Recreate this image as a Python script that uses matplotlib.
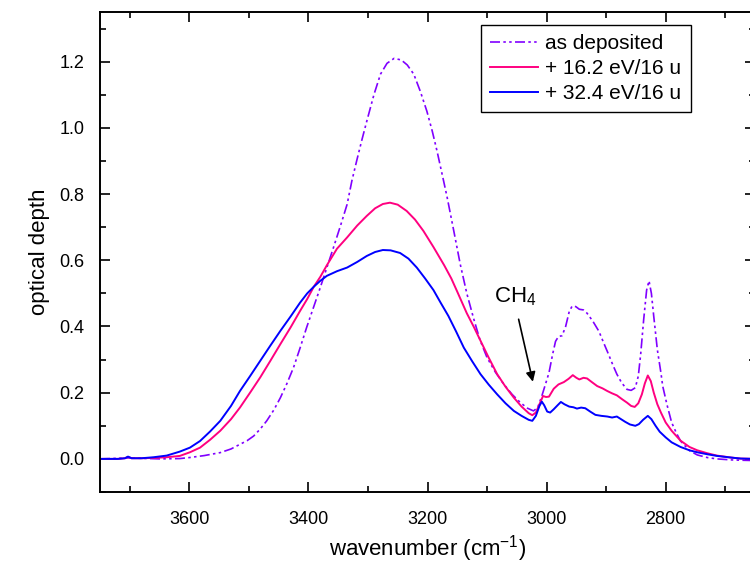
import matplotlib
matplotlib.use("Agg")
import matplotlib.pyplot as plt
from matplotlib.ticker import MultipleLocator, FormatStrFormatter

plt.rcParams['font.family'] = ['Liberation Sans', 'DejaVu Sans']
plt.rcParams['mathtext.fontset'] = 'custom'
plt.rcParams['mathtext.rm'] = 'Liberation Sans'
plt.rcParams['mathtext.it'] = 'Liberation Sans:italic'

# as deposited (dash-dot-dot, violet)
wn_dep = [3750, 3700, 3650, 3616, 3600, 3575, 3548, 3530, 3515, 3503, 3492, 3481,
          3470, 3458, 3447, 3436, 3425, 3414, 3403, 3391, 3380, 3369, 3358, 3346,
          3335, 3327, 3319, 3310, 3302, 3290, 3279, 3268, 3256, 3244, 3234, 3223,
          3212, 3201, 3192, 3184, 3173, 3167, 3156, 3145, 3134, 3123, 3112, 3100,
          3086, 3072, 3058, 3044, 3032, 3022, 3015, 3008, 3002, 2996, 2990, 2985,
          2980, 2974, 2968, 2962, 2957, 2951, 2945, 2938, 2932, 2922, 2912, 2904,
          2896, 2889, 2882, 2874, 2865, 2858, 2851, 2846, 2842, 2837, 2832, 2828,
          2824, 2820, 2814, 2808, 2805, 2798, 2790, 2782, 2775, 2760, 2747, 2730,
          2714, 2690, 2674, 2650]
od_dep = [0.0, 0.003, 0.0, 0.001, 0.004, 0.01, 0.019, 0.03, 0.044, 0.055, 0.069, 0.09,
          0.115, 0.148, 0.185, 0.228, 0.276, 0.335, 0.397, 0.46, 0.518, 0.578, 0.638, 0.705,
          0.769, 0.84, 0.9, 0.965, 1.02, 1.1, 1.162, 1.195, 1.21, 1.205, 1.19, 1.162,
          1.11, 1.05, 0.99, 0.93, 0.84, 0.79, 0.69, 0.588, 0.5, 0.427, 0.36, 0.306,
          0.262, 0.226, 0.195, 0.17, 0.153, 0.145, 0.155, 0.19, 0.225, 0.26, 0.315, 0.355,
          0.37, 0.372, 0.4, 0.445, 0.462, 0.46, 0.452, 0.45, 0.44, 0.415, 0.385, 0.35,
          0.316, 0.285, 0.256, 0.23, 0.21, 0.207, 0.215, 0.25, 0.316, 0.42, 0.51, 0.538,
          0.5, 0.43, 0.33, 0.26, 0.22, 0.165, 0.11, 0.078, 0.054, 0.025, 0.012, 0.004,
          0.0, -0.003, -0.004, -0.005]

# + 16.2 eV/16 u (pink)
wn_16 = [3750, 3720, 3708, 3703, 3697, 3680, 3660, 3638, 3616, 3599, 3582, 3565,
         3548, 3530, 3515, 3498, 3481, 3464, 3447, 3430, 3414, 3402, 3391, 3380,
         3369, 3352, 3335, 3318, 3302, 3288, 3275, 3263, 3250, 3235, 3221, 3207,
         3190, 3172, 3160, 3150, 3134, 3122, 3111, 3097, 3083, 3069, 3055, 3042,
         3030, 3024, 3018, 3012, 3006, 3001, 2996, 2988, 2980, 2971, 2963, 2956,
         2950, 2945, 2938, 2932, 2924, 2915, 2906, 2898, 2890, 2882, 2873, 2865,
         2858, 2852, 2846, 2840, 2835, 2830, 2825, 2820, 2814, 2808, 2800, 2790,
         2775, 2760, 2747, 2730, 2714, 2690, 2674, 2650]
od_16 = [0.0, 0.0, 0.002, 0.006, 0.002, 0.002, 0.003, 0.005, 0.009, 0.02, 0.034, 0.058,
         0.085, 0.12, 0.155, 0.2, 0.246, 0.296, 0.347, 0.397, 0.447, 0.483, 0.52, 0.55,
         0.585, 0.635, 0.669, 0.705, 0.734, 0.757, 0.77, 0.774, 0.768, 0.749, 0.723, 0.689,
         0.64, 0.585, 0.545, 0.505, 0.44, 0.398, 0.357, 0.305, 0.256, 0.218, 0.185, 0.158,
         0.138, 0.132, 0.14, 0.165, 0.19, 0.187, 0.188, 0.212, 0.225, 0.232, 0.242, 0.253,
         0.245, 0.24, 0.245, 0.243, 0.232, 0.22, 0.213, 0.205, 0.198, 0.192, 0.18, 0.17,
         0.16, 0.157, 0.168, 0.195, 0.228, 0.252, 0.235, 0.2, 0.165, 0.14, 0.11, 0.085,
         0.055, 0.036, 0.026, 0.017, 0.01, 0.004, 0.001, 0.0]

# + 32.4 eV/16 u (blue)
wn_32 = [3750, 3720, 3708, 3703, 3697, 3680, 3660, 3638, 3616, 3599, 3582, 3565,
         3548, 3530, 3515, 3498, 3481, 3464, 3447, 3430, 3414, 3402, 3391, 3380,
         3369, 3352, 3335, 3318, 3302, 3288, 3275, 3262, 3246, 3232, 3218, 3204,
         3190, 3178, 3165, 3152, 3139, 3125, 3111, 3097, 3083, 3069, 3055, 3042,
         3030, 3024, 3018, 3012, 3008, 3004, 2999, 2994, 2988, 2981, 2976, 2970,
         2962, 2955, 2949, 2942, 2935, 2926, 2918, 2908, 2898, 2890, 2882, 2875,
         2868, 2860, 2851, 2845, 2838, 2830, 2824, 2817, 2810, 2800, 2790, 2775,
         2760, 2747, 2730, 2714, 2690, 2674, 2650]
od_32 = [0.0, 0.0, 0.002, 0.007, 0.002, 0.002, 0.005, 0.01, 0.022, 0.034, 0.054, 0.083,
         0.115, 0.16, 0.205, 0.25, 0.296, 0.342, 0.387, 0.43, 0.472, 0.5, 0.52, 0.538,
         0.553, 0.567, 0.578, 0.595, 0.613, 0.625, 0.631, 0.63, 0.622, 0.605, 0.578, 0.545,
         0.51, 0.472, 0.432, 0.385, 0.336, 0.295, 0.256, 0.224, 0.195, 0.168, 0.145, 0.13,
         0.118, 0.115, 0.13, 0.16, 0.173, 0.162, 0.143, 0.14, 0.15, 0.163, 0.172, 0.165,
         0.158, 0.156, 0.152, 0.155, 0.153, 0.142, 0.133, 0.13, 0.128, 0.125, 0.128, 0.12,
         0.112, 0.104, 0.1, 0.105, 0.118, 0.13, 0.12, 0.1, 0.082, 0.065, 0.05, 0.036,
         0.026, 0.02, 0.014, 0.009, 0.004, 0.001, 0.0]

labels = ["as deposited", "+ 16.2 eV/16 u", "+ 32.4 eV/16 u"]

fig = plt.figure(figsize=(7.5, 5.65), dpi=100)
ax = fig.add_axes([100/750, 73/565, 655/750, 480/565])

ax.plot(wn_dep, od_dep, color="#8000ff", lw=1.2,
        linestyle=(0, (6, 2, 1.5, 2, 1.5, 2)), label=labels[0])
ax.plot(wn_16, od_16, color="#ff0080", lw=1.4, label=labels[1])
ax.plot(wn_32, od_32, color="#0000ff", lw=1.4, label=labels[2])

ax.set_xlim(3750, 2650)
ax.set_ylim(-0.1, 1.35)
ax.xaxis.set_major_locator(MultipleLocator(200))
ax.xaxis.set_minor_locator(MultipleLocator(100))
ax.yaxis.set_major_locator(MultipleLocator(0.2))
ax.yaxis.set_minor_locator(MultipleLocator(0.1))
ax.yaxis.set_major_formatter(FormatStrFormatter('%.1f'))
ax.tick_params(which='both', direction='in', top=True, right=True, labelsize=13, width=1.2)
ax.tick_params(which='major', length=7)
ax.tick_params(which='minor', length=4)
ax.tick_params(axis='x', which='major', pad=14)
ax.tick_params(axis='y', which='major', pad=11)
for s in ax.spines.values():
    s.set_linewidth(1.4)

ax.set_xlabel("wavenumber (cm$^{-1}$)", fontsize=16, labelpad=3)
ax.set_ylabel("optical depth", fontsize=16, labelpad=7)

ax.annotate("", xy=(3022, 0.225), xytext=(3048, 0.43),
            arrowprops=dict(arrowstyle="-|>", color="black", lw=1.2, mutation_scale=14))
ax.text(3052, 0.49, "CH$_4$", fontsize=16, ha="center", va="center")

leg = ax.legend(loc="upper right", bbox_to_anchor=(0.902, 0.973), borderaxespad=0,
                fontsize=15, fancybox=False, edgecolor="black", framealpha=1,
                handlelength=2.3, borderpad=0.45, labelspacing=0.28, handletextpad=0.35)
leg.get_frame().set_linewidth(1.0)

plt.savefig("out.png", dpi=100)
